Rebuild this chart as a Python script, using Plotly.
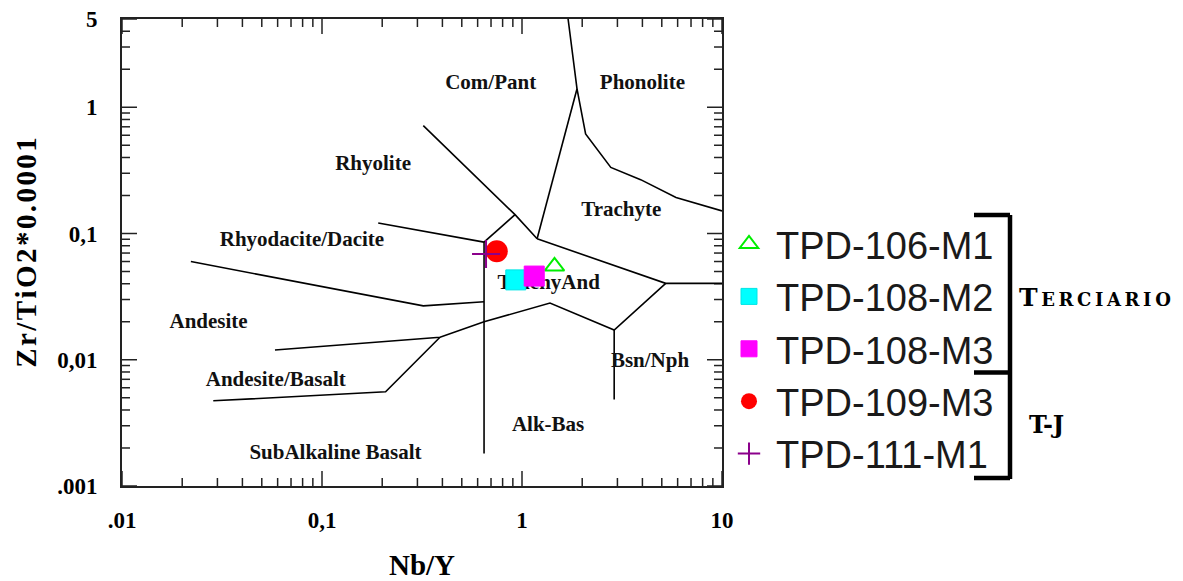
import math
import plotly.graph_objects as go

# ---------------- data ----------------
# Field boundaries (Nb/Y , Zr/TiO2*0.0001)
phon_x = [1.70, 1.884, 2.08, 2.78, 3.92, 5.89, 10.0]
phon_y = [5.0, 1.40, 0.615, 0.334, 0.267, 0.193, 0.151]
compant_x = [1.884, 1.19]
compant_y = [1.40, 0.0908]
rhyolite_x = [0.321, 0.923, 1.19]
rhyolite_y = [0.716, 0.141, 0.0908]
rhyta_x = [0.923, 0.646]
rhyta_y = [0.141, 0.0855]
rhyod_x = [0.191, 0.646]
rhyod_y = [0.121, 0.0855]
tatr_x = [1.19, 5.23, 10.0]
tatr_y = [0.0908, 0.0403, 0.0403]
andes_x = [0.0221, 0.321, 0.646]
andes_y = [0.060, 0.0267, 0.0288]
vert_x = [0.646, 0.646]
vert_y = [0.0855, 0.00181]
basup_x = [0.0582, 0.389, 0.646, 1.38, 2.89, 5.23]
basup_y = [0.01194, 0.01507, 0.0200, 0.0281, 0.0172, 0.0403]
bsn_x = [2.89, 2.89]
bsn_y = [0.0172, 0.00485]
ablow_x = [0.0286, 0.208, 0.389]
ablow_y = [0.00473, 0.00557, 0.01507]

boundaries = [
    (phon_x, phon_y), (compant_x, compant_y), (rhyolite_x, rhyolite_y),
    (rhyta_x, rhyta_y), (rhyod_x, rhyod_y), (tatr_x, tatr_y),
    (andes_x, andes_y), (vert_x, vert_y), (basup_x, basup_y),
    (bsn_x, bsn_y), (ablow_x, ablow_y),
]

field_names = ["Com/Pant", "Phonolite", "Rhyolite", "Rhyodacite/Dacite", "Trachyte",
               "TrachyAnd", "Andesite", "Andesite/Basalt", "SubAlkaline Basalt",
               "Bsn/Nph", "Alk-Bas"]
field_x = [0.697, 4.00, 0.180, 0.0794, 3.137, 1.36, 0.0271, 0.0587, 0.1168, 4.365, 1.35]
field_y = [1.54, 1.54, 0.3475, 0.0883, 0.152, 0.0403, 0.0197, 0.00686, 0.00179, 0.00973, 0.00301]

samples = ["TPD-106-M1", "TPD-108-M2", "TPD-108-M3", "TPD-109-M3", "TPD-111-M1"]
nb_y = [1.454, 0.931, 1.151, 0.748, 0.661]
zr_tio2 = [0.0550, 0.0429, 0.0460, 0.0723, 0.0687]

x_tickvals = [0.01, 0.1, 1, 10]
x_ticktext = [".01", "0,1", "1", "10"]
y_tickvals = [0.001, 0.01, 0.1, 1, 5]
y_ticktext = [".001", "0,01", "0,1", "1", "5"]
x_minor = [m * 10 ** k for k in (-2, -1, 0) for m in range(2, 10)]
y_minor = [m * 10 ** k for k in (-3, -2, -1) for m in range(2, 10)] + [2, 3, 4]

groups = ["Terciario", "T-J"]

# ---------------- styles ----------------
styles = [
    dict(symbol="triangle-up-open", color="#00ee00", size=17, line=dict(color="#00ee00", width=2)),
    dict(symbol="square", color="#00ffff", size=20, line=dict(color="#00e5e5", width=1)),
    dict(symbol="square", color="#ff00ff", size=20, line=dict(color="#ff00ff", width=1)),
    dict(symbol="circle", color="#ff0000", size=22, line=dict(color="#ff0000", width=0)),
    dict(symbol="cross-thin", color="#8b008b", size=20, line=dict(color="#8b008b", width=2)),
]

X_RANGE = [-2, 1]
Y_RANGE = [-3, math.log10(5)]
PLOT_W, PLOT_H = 600, 467
x_ppd = PLOT_W / (X_RANGE[1] - X_RANGE[0])   # pixels per decade
y_ppd = PLOT_H / (Y_RANGE[1] - Y_RANGE[0])

fig = go.Figure()

# inside tick marks on all four sides (axis decoration built from the tick lists)
tx, ty = [], []
for vals, length in ((x_tickvals, 15), (x_minor, 8)):
    d = length / y_ppd
    for v in vals:
        tx += [v, v, None, v, v, None]
        ty += [10 ** Y_RANGE[0], 10 ** (Y_RANGE[0] + d), None,
               10 ** Y_RANGE[1], 10 ** (Y_RANGE[1] - d), None]
for vals, length in ((y_tickvals, 15), (y_minor, 8)):
    d = length / x_ppd
    for v in vals:
        ty += [v, v, None, v, v, None]
        tx += [10 ** X_RANGE[0], 10 ** (X_RANGE[0] + d), None,
               10 ** X_RANGE[1], 10 ** (X_RANGE[1] - d), None]
fig.add_trace(go.Scatter(x=tx, y=ty, mode="lines", line=dict(color="#222", width=1.5),
                         showlegend=False, hoverinfo="skip", cliponaxis=False))

for bx, by in boundaries:
    fig.add_trace(go.Scatter(x=bx, y=by, mode="lines",
                             line=dict(color="black", width=1.6),
                             showlegend=False, hoverinfo="skip"))

fig.add_trace(go.Scatter(x=field_x, y=field_y, mode="text", text=field_names,
                         textposition="middle center",
                         textfont=dict(family="Liberation Serif", size=21, color="#111", weight="bold"),
                         showlegend=False, hoverinfo="skip"))

for name, xv, yv, st in zip(samples, nb_y, zr_tio2, styles):
    fig.add_trace(go.Scatter(x=[xv], y=[yv], mode="markers", name=name,
                             marker=st))

tickfont = dict(family="Liberation Serif", size=23, color="black", weight="bold")
ytitle = "\u200a".join("Zr/TiO2*0.0001")

common = dict(ticks="", showline=True, linewidth=2, linecolor="#222", mirror=True,
              showgrid=False, zeroline=False, automargin=False)

fig.update_layout(
    width=1183, height=581,
    margin=dict(l=122, r=461, t=19, b=95),
    paper_bgcolor="white", plot_bgcolor="white",
    showlegend=True,
    legend=dict(x=1.0, y=0.585, xanchor="left", yanchor="top",
                font=dict(family="Liberation Sans", size=38, color="#1a1a1a"),
                bgcolor="rgba(0,0,0,0)", borderwidth=0, itemwidth=44,
                tracegroupgap=0),
    xaxis=dict(type="log", range=X_RANGE, tickmode="array",
               tickvals=x_tickvals, ticktext=x_ticktext,
               tickfont=tickfont, ticklabelstandoff=12,
               title=dict(text="Nb/Y", standoff=32,
                          font=dict(family="Liberation Serif", size=29, color="black", weight="bold")),
               **common),
    yaxis=dict(type="log", range=Y_RANGE, tickmode="array",
               tickvals=y_tickvals, ticktext=y_ticktext,
               tickfont=tickfont, ticklabelstandoff=18,
               title=dict(text=ytitle, standoff=12,
                          font=dict(family="Liberation Serif", size=29, color="black", weight="bold")),
               **common),
)

# bracket grouping the legend (paper coordinates)
def px2paper_x(px):
    return (px - 122) / 600.0

def py2paper_y(py):
    return (486 - py) / 467.0

br = dict(color="black", width=4.5)
xv_, x0_ = px2paper_x(1010), px2paper_x(974)
for (xa, ya, xb, yb) in [
    (xv_, py2paper_y(215), xv_, py2paper_y(479)),
    (x0_, py2paper_y(215), xv_, py2paper_y(215)),
    (x0_, py2paper_y(372.5), xv_, py2paper_y(372.5)),
    (x0_, py2paper_y(478), xv_, py2paper_y(478)),
]:
    fig.add_shape(type="line", xref="paper", yref="paper", x0=xa, y0=ya, x1=xb, y1=yb,
                  line=br)

fig.add_annotation(xref="paper", yref="paper", x=px2paper_x(1095), y=py2paper_y(297),
                   xanchor="center", yanchor="middle", showarrow=False,
                   text="T<span style='font-size:18px'>\u2009E\u2009R\u2009C\u2009I\u2009A\u2009R\u2009I\u2009O</span>",
                   font=dict(family="DejaVu Serif", size=25, color="black", weight="bold"))
fig.add_annotation(xref="paper", yref="paper", x=px2paper_x(1046), y=py2paper_y(424),
                   xanchor="center", yanchor="middle", showarrow=False,
                   text=groups[1],
                   font=dict(family="DejaVu Serif", size=24, color="black", weight="bold"))

fig.write_html("out.html")
